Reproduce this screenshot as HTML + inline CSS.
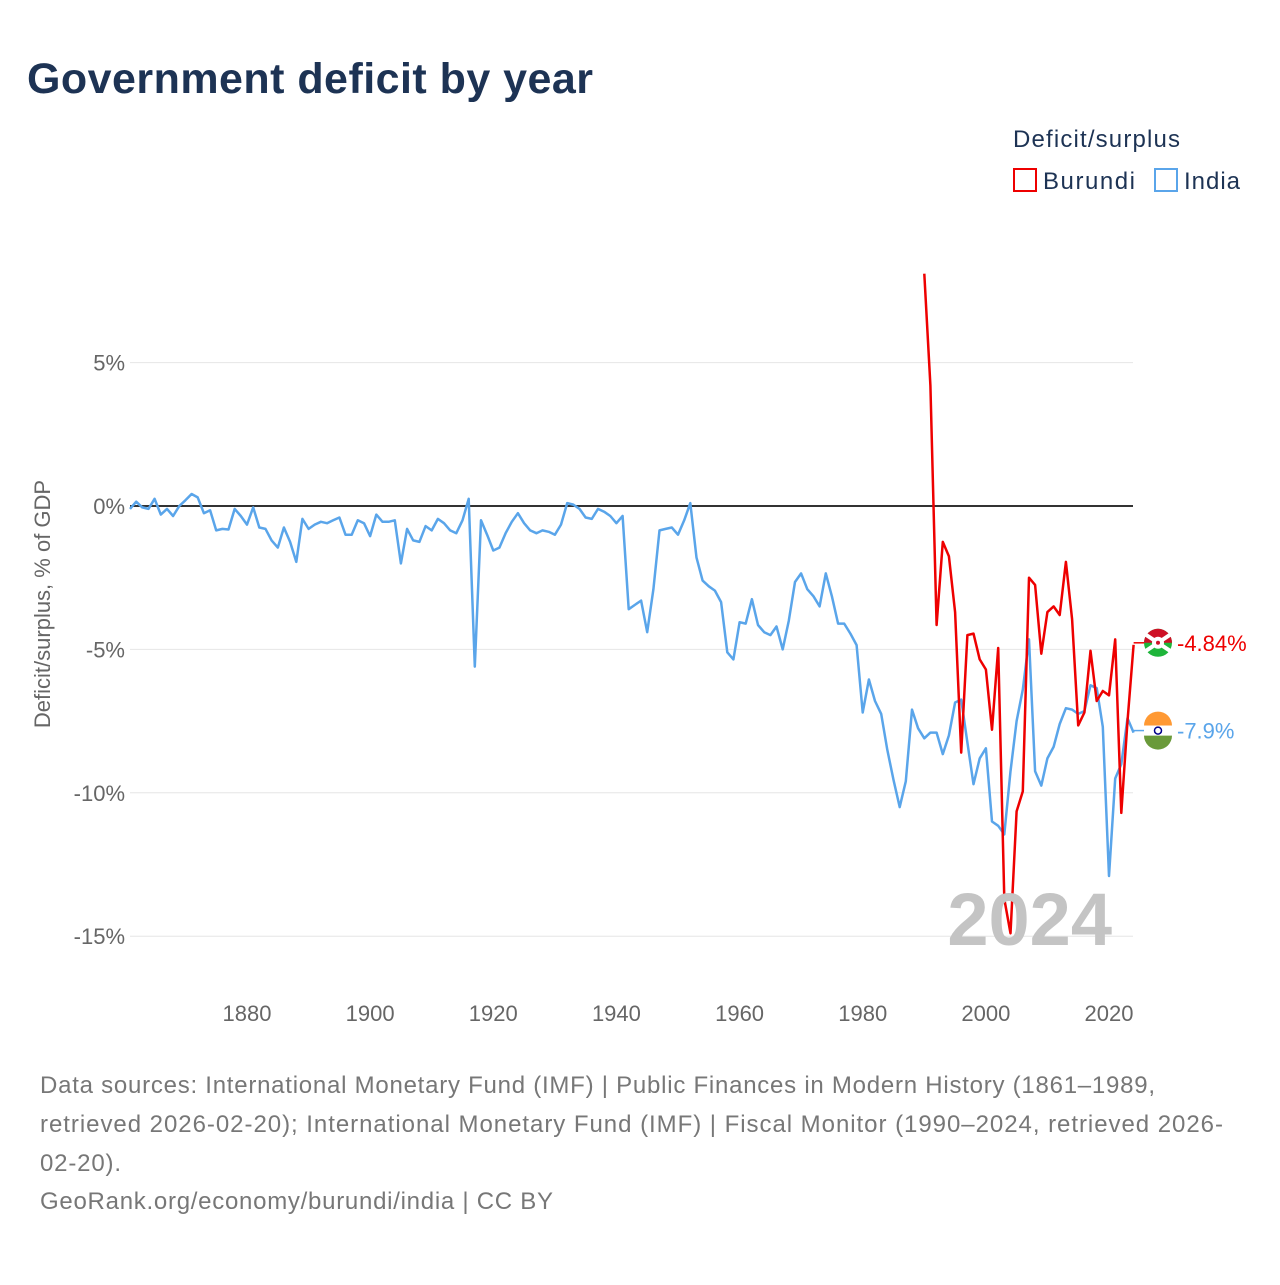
<!DOCTYPE html>
<html><head><meta charset="utf-8"><style>
body{margin:0;background:#fff;font-family:"Liberation Sans",sans-serif}
</style></head><body>
<svg width="1280" height="1280" xmlns="http://www.w3.org/2000/svg" font-family="Liberation Sans, sans-serif">
<text x="27" y="93" font-size="43" font-weight="bold" fill="#1d3354" textLength="566" lengthAdjust="spacing">Government deficit by year</text>
<text x="1013" y="147" font-size="24" fill="#1d3354" textLength="167" lengthAdjust="spacing">Deficit/surplus</text>
<g><rect x="1014" y="169" width="22" height="22" fill="none" stroke="#e00" stroke-width="2"/><text x="1043" y="189" font-size="24" fill="#1d3354" textLength="92" lengthAdjust="spacing">Burundi</text></g>
<g><rect x="1155" y="169" width="22" height="22" fill="none" stroke="#5aa5ea" stroke-width="2"/><text x="1184" y="189" font-size="24" fill="#1d3354" textLength="56" lengthAdjust="spacing">India</text></g>
<text transform="translate(50,604) rotate(-90)" text-anchor="middle" font-size="22" fill="#666">Deficit/surplus, % of GDP</text>
<g id="grid"></g><g id="xt"></g><g id="series"></g>
<text x="1112" y="945" text-anchor="end" font-size="74" font-weight="bold" fill="#c4c4c4">2024</text>
<g id="endlabels"></g>
<g font-size="24" fill="#777">
<text x="40" y="1093" textLength="1115" lengthAdjust="spacing">Data sources: International Monetary Fund (IMF) | Public Finances in Modern History (1861–1989,</text>
<text x="40" y="1132" textLength="1183" lengthAdjust="spacing">retrieved 2026-02-20); International Monetary Fund (IMF) | Fiscal Monitor (1990–2024, retrieved 2026-</text>
<text x="40" y="1171" textLength="81" lengthAdjust="spacing">02-20).</text>
<text x="40" y="1209" textLength="513" lengthAdjust="spacing">GeoRank.org/economy/burundi/india | CC BY</text>
</g>
</svg>
<script>
const yTicks=[5,0,-5,-10,-15];
const xTicks=[1880,1900,1920,1940,1960,1980,2000,2020];
const indiaStart=1861;
const indiaValues=[-0.1,0.15,-0.05,-0.1,0.25,-0.3,-0.1,-0.35,0,0.2,0.42,0.3,-0.25,-0.15,-0.85,-0.8,-0.82,-0.1,-0.35,-0.65,
-0.05,-0.75,-0.8,-1.2,-1.45,-0.75,-1.25,-1.95,-0.45,-0.8,-0.65,-0.55,-0.6,-0.5,-0.4,-1.0,-1.0,-0.5,-0.6,-1.05,
-0.3,-0.55,-0.55,-0.5,-2.0,-0.8,-1.2,-1.25,-0.7,-0.85,-0.45,-0.6,-0.85,-0.95,-0.5,0.25,-5.6,-0.5,-1.0,-1.55,
-1.45,-0.95,-0.55,-0.25,-0.6,-0.85,-0.95,-0.85,-0.9,-1.0,-0.65,0.1,0.05,-0.1,-0.4,-0.45,-0.1,-0.2,-0.35,-0.6,
-0.35,-3.6,-3.45,-3.3,-4.4,-2.9,-0.85,-0.8,-0.75,-1.0,-0.5,0.1,-1.8,-2.6,-2.8,-2.95,-3.35,-5.1,-5.35,-4.05,
-4.1,-3.25,-4.15,-4.4,-4.5,-4.2,-5.0,-4.0,-2.65,-2.35,-2.9,-3.15,-3.5,-2.35,-3.15,-4.1,-4.1,-4.45,-4.85,-7.2,
-6.05,-6.8,-7.25,-8.5,-9.55,-10.5,-9.6,-7.1,-7.75,-8.1,-7.9,-7.9,-8.65,-8.0,-6.85,-6.75,-8.25,-9.7,-8.8,-8.45,
-11.0,-11.15,-11.45,-9.25,-7.5,-6.4,-4.65,-9.25,-9.75,-8.8,-8.4,-7.6,-7.05,-7.1,-7.25,-7.15,-6.25,-6.35,-7.7,-12.9,
-9.5,-9.0,-7.4,-7.9];
const burundiStart=1990;
const burundiValues=[8.1,4.2,-4.15,-1.25,-1.75,-3.7,-8.6,-4.5,-4.45,-5.35,-5.7,-7.8,-4.95,-13.7,-14.9,-10.65,-9.95,-2.5,-2.75,-5.15,
-3.7,-3.5,-3.8,-1.95,-3.95,-7.65,-7.2,-5.05,-6.8,-6.45,-6.6,-4.65,-10.7,-7.5,-4.84];
const endLabels=["-4.84%","-7.9%"];
const X=yr=>247+(yr-1880)*(1109-247)/140;
const Y=v=>506-v*28.68;
const NS="http://www.w3.org/2000/svg";
function mk(t,a,p){const e=document.createElementNS(NS,t);for(const k in a)e.setAttribute(k,a[k]);p.appendChild(e);return e;}
const grid=document.getElementById('grid');
yTicks.forEach(v=>{
 const l=mk('line',{x1:130,x2:1133,y1:Y(v),y2:Y(v),stroke:v===0?'#333':'#e6e6e6','stroke-width':v===0?2:1},grid);
 
 
 const t=mk('text',{x:125,y:Y(v)+8,'text-anchor':'end','font-size':22,fill:'#666'},grid);
 t.textContent=v+'%';
 
 
});
const xt=document.getElementById('xt');
xTicks.forEach(yr=>{
 const t=mk('text',{x:X(yr),y:1021,'text-anchor':'middle','font-size':22,fill:'#666'},xt);
 t.textContent=yr;
 
 
});
const ser=document.getElementById('series');
function line(vals,start,col,name){
 const d=vals.map((v,i)=>(i?'L':'M')+X(start+i).toFixed(1)+','+Y(v).toFixed(1)).join('');
 const p=mk('path',{d:d,fill:'none',stroke:col,'stroke-width':2.5,'stroke-linejoin':'round'},ser);
 
 
}
line(indiaValues,indiaStart,'#5aa5ea','india-line');
line(burundiValues,burundiStart,'#e00','burundi-line');
const el=document.getElementById('endlabels');
const lastB=burundiValues[burundiValues.length-1], lastI=indiaValues[indiaValues.length-1];
const xe=X(2024);
[[lastB,'#e00',endLabels[0],'burundi'],[lastI,'#5aa5ea',endLabels[1],'india']].forEach(([v,c,s,n])=>{
 const y=Y(v)-2;
 const ln=mk('line',{x1:xe,x2:1145,y1:y,y2:y,stroke:c,'stroke-width':1.5},el);
 
 
 const g=mk('g',{},el);
 
 
 if(n==='burundi'){
  mk('circle',{cx:1158,cy:y,r:14,fill:'#1eb53a'},g);
  mk('path',{d:`M1144,${y}A14,14 0 0 1 1172,${y}Z`,fill:'#ce1126'},g);
  mk('path',{d:`M1146,${y-8}L1170,${y+8}M1146,${y+8}L1170,${y-8}`,stroke:'#fff','stroke-width':4},g);
  mk('circle',{cx:1158,cy:y,r:6,fill:'#fff'},g);
  mk('circle',{cx:1158,cy:y,r:2,fill:'#ce1126'},g);
 }else{
  mk('path',{d:`M1144,${y-5}A14,14 0 0 1 1172,${y-5}Z`,fill:'#f93'},g);
  mk('rect',{x:1144,y:y-5,width:28,height:10,fill:'#fff'},g);
  mk('path',{d:`M1144,${y+5}A14,14 0 0 0 1172,${y+5}Z`,fill:'#6a9a3a'},g);
  mk('circle',{cx:1158,cy:y,r:3.5,fill:'none',stroke:'#008',"stroke-width":1.5},g);
 }
 const t=mk('text',{x:1177,y:y+8,'font-size':22,fill:c},el);
 t.textContent=s;
 
 
});
</script>
</body></html>
